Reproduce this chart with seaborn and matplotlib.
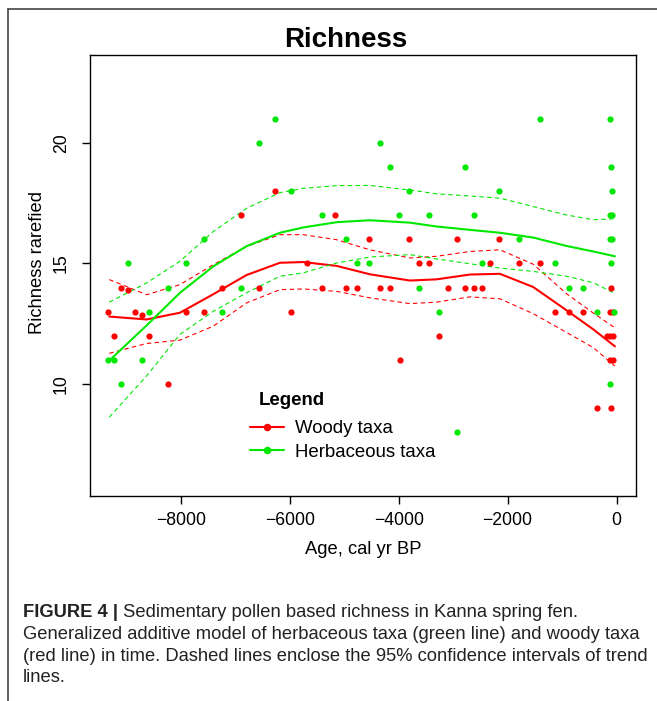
import matplotlib
matplotlib.use('Agg')
import matplotlib.pyplot as plt
from matplotlib.lines import Line2D
import seaborn as sns

# sample points, age in cal yr BP (negative = before present)
woody_age = [-9340, -9224, -9096, -8962, -8830, -8705, -8577, -8240, -7903, -7573,
             -7237, -6900, -6570, -6270, -5977, -5689, -5406, -5169, -4967, -4760,
             -4551, -4343, -4160, -3980, -3806, -3628, -3444, -3266, -3090, -2930,
             -2778, -2624, -2472, -2325, -2166, -1787, -1413, -1132, -875, -624,
             -367, -172, -123, -123, -123, -110, -99, -62, -62, -62]
woody_richness = [13, 12, 14, 13.9, 13, 12.85, 12, 10, 13, 13,
                  14, 17, 14, 18, 13, 15, 14, 17, 14, 14,
                  16, 14, 14, 11, 16, 15, 15, 12, 14, 16,
                  14, 14, 14, 15, 16, 15, 15, 13, 13, 13,
                  9, 12, 13, 12, 11, 9, 14, 13, 12, 11]

herb_age = [-9340, -9224, -9096, -8962, -8705, -8577, -8240, -7903, -7573, -7237,
            -6900, -6570, -6270, -5977, -5406, -4967, -4760, -4551, -4343, -4160,
            -3989, -3806, -3628, -3444, -3266, -2936, -2778, -2624, -2472, -2166,
            -1787, -1413, -1132, -875, -624, -367, -123, -99, -80, -123,
            -80, -123, -80, -110, -55, -123]
herb_richness = [11, 11, 10, 15, 11, 13, 14, 15, 16, 13,
                 14, 20, 21, 18, 17, 16, 15, 15, 20, 19,
                 17, 18, 14, 17, 13, 8, 19, 17, 15, 18,
                 16, 21, 15, 14, 14, 13, 21, 19, 18, 17,
                 17, 16, 16, 15, 13, 10]

# GAM trend lines and 95% confidence limits
fit_age = [-9310, -8625, -8013, -7402, -6790, -6178, -5751, -5138, -4527,
           -3793, -3303, -2692, -2141, -1530, -918, -429, -31]
woody_fit = [12.79, 12.67, 12.95, 13.72, 14.52, 15.03, 15.06, 14.9, 14.55,
             14.29, 14.34, 14.54, 14.57, 14.02, 13.05, 12.26, 11.55]
woody_upper = [14.33, 13.7, 14.12, 14.95, 15.71, 16.2, 16.2, 15.99, 15.57,
               15.23, 15.3, 15.5, 15.57, 14.97, 13.74, 12.94, 12.32]
woody_lower = [11.26, 11.67, 11.81, 12.39, 13.36, 13.91, 13.94, 13.84, 13.57,
               13.33, 13.39, 13.61, 13.53, 12.91, 12.13, 11.5, 10.73]
herb_fit = [10.96, 12.42, 13.78, 14.88, 15.72, 16.28, 16.5, 16.72, 16.8,
            16.7, 16.54, 16.4, 16.28, 16.08, 15.73, 15.5, 15.3]
herb_upper = [13.39, 14.19, 15.09, 16.33, 17.3, 17.95, 18.13, 18.24, 18.25,
              18.06, 17.9, 17.81, 17.72, 17.37, 17.02, 16.82, 16.86]
herb_lower = [8.6, 10.32, 12.05, 13.01, 13.78, 14.47, 14.61, 15.02, 15.27,
              15.37, 15.19, 14.99, 14.81, 14.67, 14.47, 14.2, 13.75]

RED = '#ff0000'
GREEN = '#00e800'
W, H = 657, 701

sns.set_style('ticks')
plt.rcParams['font.family'] = ['Liberation Sans', 'DejaVu Sans']
plt.rcParams['text.color'] = 'black'
plt.rcParams['axes.labelcolor'] = 'black'
plt.rcParams['xtick.color'] = 'black'
plt.rcParams['ytick.color'] = 'black'

fig = plt.figure(figsize=(W / 100, H / 100), dpi=100)
ax = fig.add_axes([90 / W, 1 - 496 / H, 546 / W, 441 / H])

dash = (0, (4, 3))
for fit, up, lo, col in [(woody_fit, woody_upper, woody_lower, RED),
                         (herb_fit, herb_upper, herb_lower, GREEN)]:
    sns.lineplot(x=fit_age, y=fit, color=col, linewidth=1.5, sort=False, estimator=None, ax=ax)
    sns.lineplot(x=fit_age, y=up, color=col, linewidth=0.8, linestyle=dash, sort=False, estimator=None, ax=ax)
    sns.lineplot(x=fit_age, y=lo, color=col, linewidth=0.8, linestyle=dash, sort=False, estimator=None, ax=ax)

sns.scatterplot(x=woody_age, y=woody_richness, color=RED, s=20, linewidth=0, ax=ax, zorder=3)
sns.scatterplot(x=herb_age, y=herb_richness, color=GREEN, s=20, linewidth=0, ax=ax, zorder=3)

ax.set_xlim(-9664, 356)
ax.set_ylim(5.32, 23.68)
ax.set_xticks([-8000, -6000, -4000, -2000, 0])
ax.set_yticks([10, 15, 20])
for s in ax.spines.values():
    s.set_visible(True)
    s.set_color('black')
    s.set_linewidth(1.0)
ax.tick_params(axis='both', length=5.5, width=1.0, labelsize=12.7)
ax.tick_params(axis='x', pad=6)
ax.tick_params(axis='y', labelrotation=90, pad=9)
for lab in ax.get_yticklabels():
    lab.set_va('center')

ax.set_xlabel('Age, cal yr BP', fontsize=13.2)
ax.set_ylabel('Richness rarefied', fontsize=13.2)
ax.xaxis.set_label_coords(0.5, (496 - 554) / 441)
ax.xaxis.label.set_va('baseline')
ax.yaxis.set_label_coords((38 - 90) / 546, (496 - 263) / 441)
ax.yaxis.label.set_va('center')

# legend: entries via matplotlib, heading as separate text (wider gap in the original)
handles = [Line2D([], [], color=RED, lw=1.5, marker='o', markersize=4.4),
           Line2D([], [], color=GREEN, lw=1.5, marker='o', markersize=4.4)]
ax.legend(handles, ['Woody taxa', 'Herbaceous taxa'],
          frameon=False, loc='upper left',
          bbox_to_anchor=(241 / W, 1 - 411 / H), bbox_transform=fig.transFigure,
          borderpad=0, handlelength=1.8, handletextpad=0.6, labelspacing=0.33,
          fontsize=13.4)
fig.text(259 / W, 1 - 405 / H, 'Legend', fontsize=13.4, fontweight='bold', va='baseline')

fig.text(346 / W, 1 - 47 / H, 'Richness', ha='center', va='baseline',
         fontsize=20, fontweight='bold')

# panel frame
fig.add_artist(Line2D([8 / W, 1], [1 - 8.7 / H, 1 - 8.7 / H], transform=fig.transFigure,
                      color='#444444', lw=1.2))
fig.add_artist(Line2D([8 / W, 8 / W], [0, 1 - 8.7 / H], transform=fig.transFigure,
                      color='#444444', lw=1.2))

# caption
cap_size = 13.2
cap_col = '#222222'
x0 = 23 / W
bold = fig.text(x0, 1 - 617 / H, 'FIGURE 4 |', fontsize=cap_size, fontweight='bold',
                color=cap_col, va='baseline')
fig.canvas.draw()
bb = bold.get_window_extent(fig.canvas.get_renderer())
fig.text(bb.x1 / W, 1 - 617 / H, ' Sedimentary pollen based richness in Kanna spring fen.',
         fontsize=cap_size, color=cap_col, va='baseline')
lines = ['Generalized additive model of herbaceous taxa (green line) and woody taxa',
         '(red line) in time. Dashed lines enclose the 95% confidence intervals of trend',
         'lines.']
for i, t in enumerate(lines):
    fig.text(x0, 1 - (639 + 21.7 * i) / H, t, fontsize=cap_size, color=cap_col, va='baseline')

fig.savefig('out.png', dpi=100)
plt.close(fig)
